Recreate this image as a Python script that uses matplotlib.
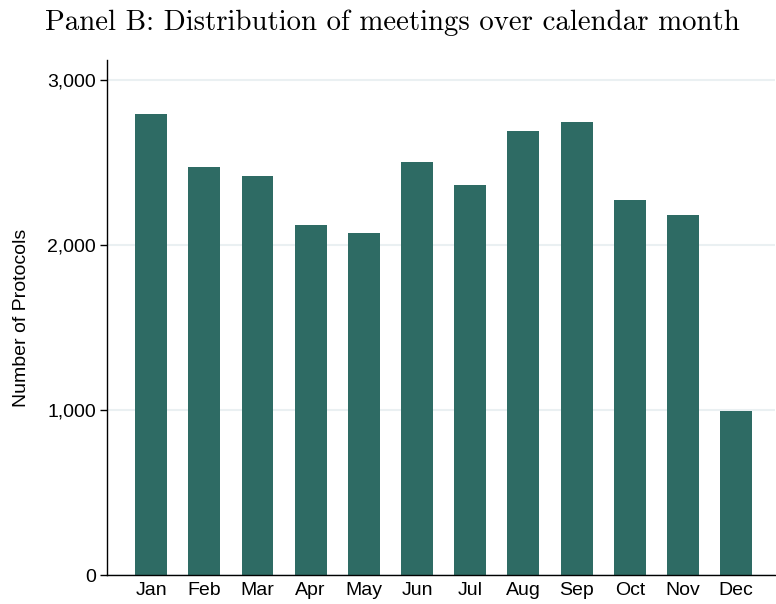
import matplotlib
matplotlib.use('Agg')
import matplotlib.pyplot as plt
from matplotlib.ticker import FuncFormatter

months = ['Jan', 'Feb', 'Mar', 'Apr', 'May', 'Jun',
          'Jul', 'Aug', 'Sep', 'Oct', 'Nov', 'Dec']
protocols = [2792, 2470, 2418, 2118, 2072, 2503,
             2364, 2690, 2747, 2273, 2182, 995]
yticks = [0, 1000, 2000, 3000]

plt.rcParams['font.family'] = ['Liberation Sans', 'DejaVu Sans']

fig = plt.figure(figsize=(7.76, 6.04), dpi=100)
ax = fig.add_axes([0.1379, 0.048, 0.8608, 0.8527])

x = list(range(len(months)))
ax.bar(x, protocols, width=0.6, color='#2e6b64', zorder=2)

ax.set_xlim(-0.83, 11.73)
ax.set_ylim(0, 3120)
ax.set_yticks(yticks)
ax.yaxis.set_major_formatter(FuncFormatter(lambda v, p: f'{int(v):,}'))
ax.set_xticks(x)
ax.set_xticklabels(months)
ax.tick_params(axis='x', length=0, labelsize=14, pad=5)
ax.tick_params(axis='y', length=5, width=1, labelsize=14, pad=3)
ax.grid(axis='y', color='#eaf0f2', linewidth=1.5, zorder=0)
ax.set_axisbelow(True)

for s in ['top', 'right']:
    ax.spines[s].set_visible(False)
for s in ['left', 'bottom']:
    ax.spines[s].set_linewidth(1.0)

ax.set_ylabel('Number of Protocols', fontsize=14, labelpad=12)

fig.text(0.506, 0.962, 'Panel B: Distribution of meetings over calendar month',
         ha='center', va='center', fontsize=20.8, family='cmr10')

fig.savefig('out.png', dpi=100)
